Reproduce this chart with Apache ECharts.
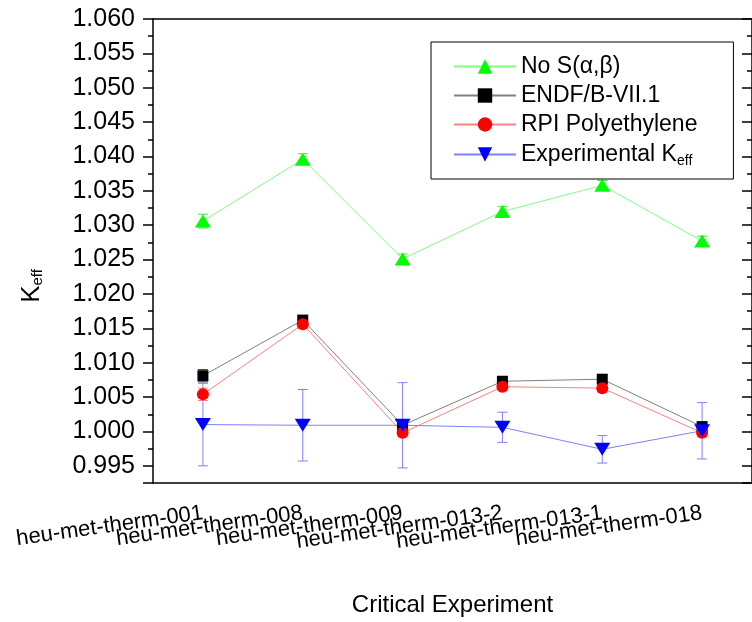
<!DOCTYPE html>
<html>
<head>
<meta charset="utf-8">
<script src="https://cdn.jsdelivr.net/npm/echarts@6/dist/echarts.min.js"></script>
<style>
html,body{margin:0;padding:0;background:#fff;}
#chart{width:752px;height:622px;}
</style>
</head>
<body>
<div id="chart"></div>
<script>
// ---- data ----
var categories = ['heu-met-therm-001','heu-met-therm-008','heu-met-therm-009','heu-met-therm-013-2','heu-met-therm-013-1','heu-met-therm-018'];
var noSab      = [1.0306, 1.0396, 1.0251, 1.0320, 1.0358, 1.0277];
var noSabErr   = [0.0010, 0.0008, 0.0007, 0.0007, 0.0007, 0.0007];
var endf       = [1.0081, 1.0162, 1.0009, 1.0073, 1.0076, 1.0007];
var endfErr    = [0.0009, 0.0006, 0.0006, 0.0006, 0.0006, 0.0006];
var rpi        = [1.0054, 1.0156, 0.9998, 1.0065, 1.0063, 0.9998];
var rpiErr     = [0.0009, 0.0006, 0.0006, 0.0006, 0.0006, 0.0006];
var experimental    = [1.0010, 1.0009, 1.0009, 1.0006, 0.9974, 1.0001];
var experimentalErr = [0.0060, 0.0052, 0.0062, 0.0022, 0.0020, 0.0041];
var yTicks = {min: 0.9925, max: 1.060, step: 0.005};

var FONT = '"Liberation Sans", Arial, sans-serif';

function errData(vals, errs){
  return vals.map(function(v,i){ return [i, v - errs[i], v + errs[i]]; });
}
function errSeries(name, vals, errs, color){
  return {
    type: 'custom', name: name, z: 1, silent: true,
    data: errData(vals, errs),
    encode: {x: 0, y: [1, 2]},
    renderItem: function(params, api){
      var x = api.value(0);
      var hi = api.coord([x, api.value(2)]);
      var lo = api.coord([x, api.value(1)]);
      var w = 5;
      var st = {stroke: color, lineWidth: 1};
      return {type: 'group', children: [
        {type: 'line', shape: {x1: hi[0], y1: hi[1], x2: lo[0], y2: lo[1]}, style: st},
        {type: 'line', shape: {x1: hi[0]-w, y1: hi[1], x2: hi[0]+w, y2: hi[1]}, style: st},
        {type: 'line', shape: {x1: lo[0]-w, y1: lo[1], x2: lo[0]+w, y2: lo[1]}, style: st}
      ]};
    }
  };
}
function lineSeries(name, vals, symbol, size, markerColor, lineColor, rotate){
  return {
    type: 'line', name: name, data: vals, z: 3,
    symbol: symbol, symbolSize: size, symbolRotate: rotate || 0,
    showAllSymbol: true,
    itemStyle: {color: markerColor, borderWidth: 0},
    lineStyle: {color: lineColor, width: 1},
    emphasis: {disabled: true},
    animation: false
  };
}

var yCommon = {
  type: 'value', min: yTicks.min, max: yTicks.max,
  splitNumber: 14, minInterval: yTicks.step, maxInterval: yTicks.step,
  splitLine: {show: false}
};

var chart = echarts.init(document.getElementById('chart'), null, {renderer: 'canvas'});
chart.setOption({
  animation: false,
  backgroundColor: '#fff',
  textStyle: {fontFamily: FONT},
  grid: {left: 153, top: 19, right: -2, bottom: 136, containLabel: false},
  legend: {
    orient: 'vertical', left: 431, top: 42,
    padding: [11, 36, 11, 22],
    borderColor: '#000', borderWidth: 1,
    itemWidth: 62, itemHeight: 18, itemGap: 2,
    textStyle: {fontFamily: FONT, fontSize: 23, color: '#000', lineHeight: 27,
      rich: {
        a: {fontFamily: FONT, fontSize: 23, color: '#000', lineHeight: 27},
        s: {fontFamily: FONT, fontSize: 14, color: '#000', lineHeight: 27, verticalAlign: 'bottom', padding: [14, 0, 0, 0]}
      }
    },
    data: ['No S(α,β)', 'ENDF/B-VII.1', 'RPI Polyethylene', 'Experimental Keff'],
    formatter: function(n){
      if (n === 'Experimental Keff') return '{a|Experimental K}{s|eff}';
      return n;
    }
  },
  xAxis: [{
    type: 'category', data: categories, boundaryGap: true,
    axisLine: {lineStyle: {color: '#000', width: 1.5}},
    axisTick: {alignWithLabel: true, length: 10, lineStyle: {color: '#000', width: 1.5}},
    axisLabel: {rotate: 8, fontSize: 22, color: '#000', margin: 30, fontFamily: FONT, interval: 0},
    name: 'Critical Experiment', nameLocation: 'middle', nameGap: 110,
    nameTextStyle: {fontSize: 24, color: '#000', fontFamily: FONT}
  }, {
    type: 'category', data: categories, boundaryGap: true, position: 'top',
    axisLine: {lineStyle: {color: '#000', width: 1.5}},
    axisTick: {alignWithLabel: true, inside: true, length: 9, lineStyle: {color: '#000', width: 1.5}},
    axisLabel: {show: false}
  }],
  yAxis: [Object.assign({}, yCommon, {
    position: 'left',
    axisLine: {show: true, lineStyle: {color: '#000', width: 1.5}},
    axisTick: {show: true, length: 10, lineStyle: {color: '#000', width: 1.5}},
    minorTick: {show: true, splitNumber: 2, length: 5, lineStyle: {color: '#000', width: 1.5}},
    axisLabel: {fontSize: 25, color: '#000', margin: 18, fontFamily: FONT, showMinLabel: false,
      formatter: function(v){ return v.toFixed(3); }},
    name: '{k|K}{s|eff}', nameLocation: 'middle', nameGap: 108, nameRotate: 90,
    nameTextStyle: {color: '#000', padding: [0, 70, 0, 0],
      rich: {
        k: {fontSize: 26, fontFamily: FONT, color: '#000'},
        s: {fontSize: 15, fontFamily: FONT, color: '#000', padding: [12, 0, 0, 0]}
      }}
  }), Object.assign({}, yCommon, {
    position: 'right',
    axisLine: {show: true, lineStyle: {color: '#000', width: 1.5}},
    axisTick: {show: true, inside: true, length: 10, lineStyle: {color: '#000', width: 1.5}},
    minorTick: {show: true, splitNumber: 2, length: 5, lineStyle: {color: '#000', width: 1.5}},
    axisLabel: {show: false}
  })],
  series: [
    errSeries('No S(α,β) err', noSab, noSabErr, '#40e040'),
    errSeries('ENDF err', endf, endfErr, '#404040'),
    errSeries('RPI err', rpi, rpiErr, '#ff8080'),
    errSeries('Exp err', experimental, experimentalErr, '#8080ff'),
    lineSeries('No S(α,β)', noSab, 'triangle', [16, 13], '#00ff00', '#80ff80'),
    lineSeries('ENDF/B-VII.1', endf, 'rect', 11, '#000000', '#808080'),
    lineSeries('RPI Polyethylene', rpi, 'circle', 12, '#ff0000', '#ff8080'),
    lineSeries('Experimental Keff', experimental, 'triangle', [16, 13], '#0000ff', '#8080ff', 180)
  ]
});
</script>
</body>
</html>
